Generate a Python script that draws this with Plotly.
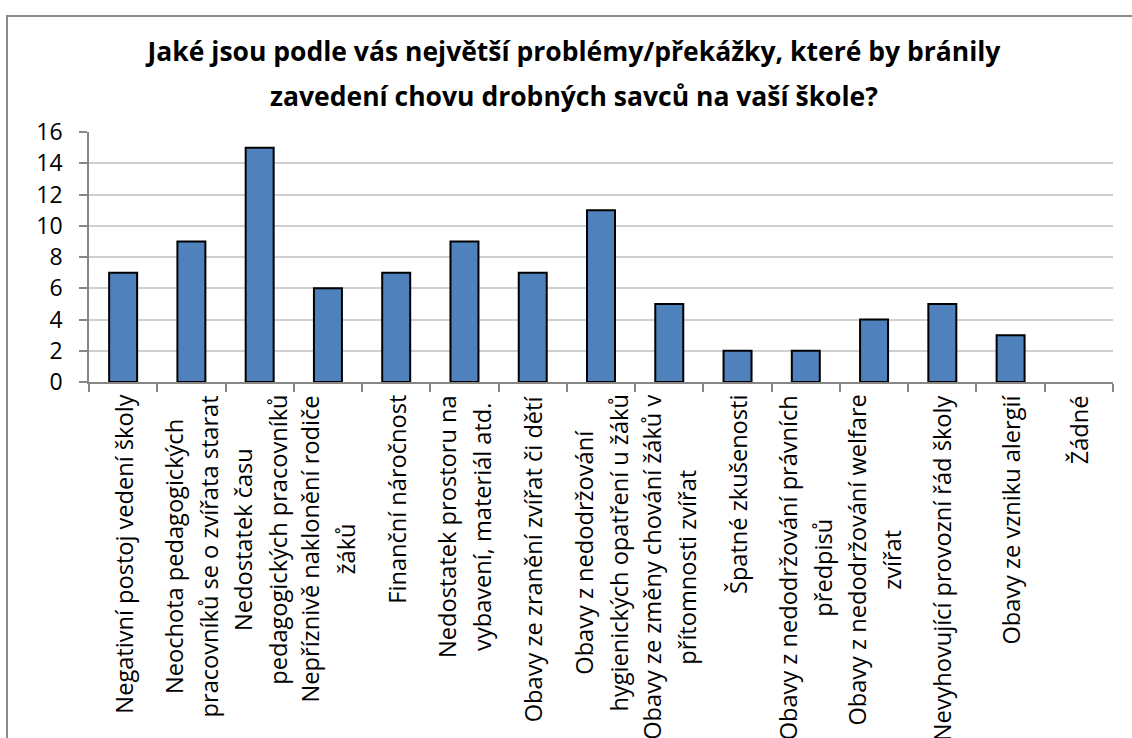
import plotly.graph_objects as go

title_lines = [
    "Jaké jsou podle vás největší problémy/překážky, které by bránily",
    "zavedení chovu drobných savců na vaší škole?",
]

categories = [
    "Negativní postoj vedení školy",
    "Neochota pedagogických pracovníků se o zvířata starat",
    "Nedostatek času pedagogických pracovníků",
    "Nepříznivě naklonění rodiče žáků",
    "Finanční náročnost",
    "Nedostatek prostoru na vybavení, materiál atd.",
    "Obavy ze zranění zvířat či dětí",
    "Obavy z nedodržování hygienických opatření u žáků",
    "Obavy ze změny chování žáků v přítomnosti zvířat",
    "Špatné zkušenosti",
    "Obavy z nedodržování právních předpisů",
    "Obavy z nedodržování welfare zvířat",
    "Nevyhovující provozní řád školy",
    "Obavy ze vzniku alergií",
    "Žádné",
]

label_lines = [
    ["Negativní postoj vedení školy"],
    ["Neochota pedagogických", "pracovníků se o zvířata starat"],
    ["Nedostatek času", "pedagogických pracovníků"],
    ["Nepříznivě naklonění rodiče", "žáků"],
    ["Finanční náročnost"],
    ["Nedostatek prostoru na", "vybavení, materiál atd."],
    ["Obavy ze zranění zvířat či dětí"],
    ["Obavy z nedodržování", "hygienických opatření u žáků"],
    ["Obavy ze změny chování žáků v", "přítomnosti zvířat"],
    ["Špatné zkušenosti"],
    ["Obavy z nedodržování právních", "předpisů"],
    ["Obavy z nedodržování welfare", "zvířat"],
    ["Nevyhovující provozní řád školy"],
    ["Obavy ze vzniku alergií"],
    ["Žádné"],
]

values = [7, 9, 15, 6, 7, 9, 7, 11, 5, 2, 2, 4, 5, 3, 0]

y_ticks = [0, 2, 4, 6, 8, 10, 12, 14, 16]

FONT = "Open Sans"
LABEL_PX = 23.6
LABEL_LINE_PX = 27
TITLE_PX = 26.5
TITLE_LINE_PX = 34.6


def span(text, px, bold=False):
    inner = f"<b>{text}</b>" if bold else text
    return f"<span style='font-size:{px}px'>{inner}</span>"


fig = go.Figure()
fig.add_trace(go.Bar(
    x=categories,
    y=values,
    marker=dict(color="#4F81BD",
                line=dict(color="#000000", width=[2 if v > 0 else 0 for v in values])),
    showlegend=False,
))

annotations = []
for cat, lines in zip(categories, label_lines):
    annotations.append(dict(
        x=cat, y=0, xref="x", yref="y",
        text="<br>".join(span(l, LABEL_PX) for l in lines),
        textangle=-90, align="center",
        xanchor="center", yanchor="top",
        yshift=-11, showarrow=False,
        font=dict(family=FONT, size=LABEL_LINE_PX, color="#000000"),
    ))

fig.update_layout(
    width=1132, height=738,
    margin=dict(l=89, r=19, t=132, b=356, autoexpand=False),
    paper_bgcolor="white", plot_bgcolor="white",
    bargap=0.59,
    title=dict(
        text="<br>".join(span(l, TITLE_PX, bold=True) for l in title_lines),
        x=574 / 1132, xref="container", xanchor="center",
        y=1 - 61 / 738, yref="container", yanchor="top",
        font=dict(family=FONT, size=TITLE_LINE_PX, color="#000000"),
    ),
    annotations=annotations,
    shapes=[dict(
        type="rect", xref="paper", yref="paper",
        x0=(7 - 89) / 1024, x1=(1160 - 89) / 1024,
        y0=(382 - 800) / 250, y1=(382 - 16) / 250,
        line=dict(color="#8C8C8C", width=2), fillcolor="rgba(0,0,0,0)",
        layer="below",
    )],
)

fig.update_xaxes(
    type="category",
    showticklabels=False,
    tickson="boundaries",
    ticks="outside", ticklen=8, tickwidth=1.5, tickcolor="#868686",
    showline=True, linecolor="#868686", linewidth=1.5,
    showgrid=False, zeroline=False,
)
fig.update_yaxes(
    range=[0, 16],
    tickvals=y_ticks,
    ticks="outside", ticklen=8, tickwidth=1.5, tickcolor="#868686",
    ticklabelstandoff=12,
    showline=True, linecolor="#868686", linewidth=1.5,
    showgrid=True, gridcolor="#D0D0D0", gridwidth=1.5,
    zeroline=False,
    tickfont=dict(family=FONT, size=23, color="#000000"),
)

fig.write_html("out.html")
